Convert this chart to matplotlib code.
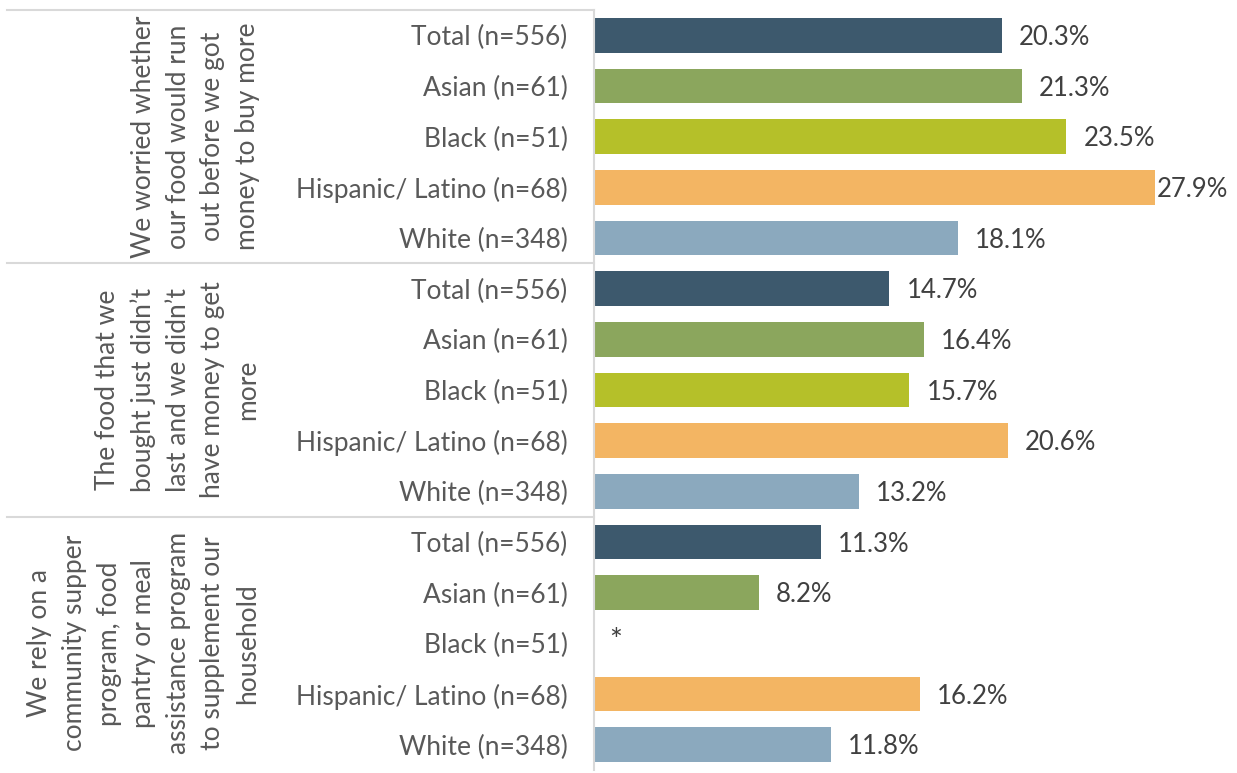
import matplotlib
matplotlib.use("Agg")
import matplotlib.pyplot as plt
from matplotlib.lines import Line2D

plt.rcParams['font.family'] = ['Lato', 'DejaVu Sans']

questions = [
    "We worried whether\nour food would run\nout before we got\nmoney to buy more",
    "The food that we\nbought just didn\u2019t\nlast and we didn\u2019t\nhave money to get\nmore",
    "We rely on a\ncommunity supper\nprogram, food\npantry or meal\nassistance program\nto supplement our\nhousehold",
]
groups = ["Total (n=556)", "Asian (n=61)", "Black (n=51)", "Hispanic/ Latino (n=68)", "White (n=348)"]
worried = [20.3, 21.3, 23.5, 27.9, 18.1]
didnt_last = [14.7, 16.4, 15.7, 20.6, 13.2]
rely_on = [11.3, 8.2, None, 16.2, 11.8]  # Black suppressed (*)
colors = ["#3D596D", "#8BA65D", "#B5C029", "#F3B563", "#8BA9BE"]

values = [worried, didnt_last, rely_on]

W, H = 1237, 773
fig = plt.figure(figsize=(W / 100, H / 100), dpi=100)
ax = fig.add_axes([594 / W, 1 - 770 / H, (W - 594) / W, 760 / H])

xmax = 32.0
n = len(groups)
rows = len(questions) * n
label_color = "#595959"
value_color = "#404040"
fs = 19

for qi, vals in enumerate(values):
    for gi, v in enumerate(vals):
        y = qi * n + gi
        if v is None:
            ax.text(0.75, y - 0.05, "*", va="center", ha="left", fontsize=fs + 3,
                    color=value_color)
            continue
        ax.barh(y, v, height=0.69, color=colors[gi])
        lx = min(v + 0.85, 28.0)
        ax.text(lx, y + 0.04, f"{v:.1f}%", va="center", ha="left", fontsize=fs - 0.5,
                color=value_color)

ax.set_xlim(0, xmax)
ax.set_ylim(rows - 0.5, -0.5)
ax.set_yticks(range(rows))
ax.set_yticklabels(groups * len(questions), fontsize=fs, color=label_color)
ax.tick_params(axis="y", length=0, pad=19)
ax.set_xticks([])
for s in ["top", "right", "bottom"]:
    ax.spines[s].set_visible(False)
ax.spines["left"].set_color("#D9D9D9")
ax.spines["left"].set_linewidth(1.5)

# group separators and rotated question labels
block = 760 / len(questions)
for qi, q in enumerate(questions):
    top = 10 + qi * block
    fig.add_artist(Line2D([7 / W, 594 / W], [1 - top / H, 1 - top / H],
                          color="#D9D9D9", linewidth=1.5))
    yc = top + block / 2
    fig.text(260 / W, 1 - yc / H, q, rotation=90, ha="right", va="center",
             multialignment="center", fontsize=fs, color=label_color,
             linespacing=1.48)

fig.savefig("out.png", dpi=100)
